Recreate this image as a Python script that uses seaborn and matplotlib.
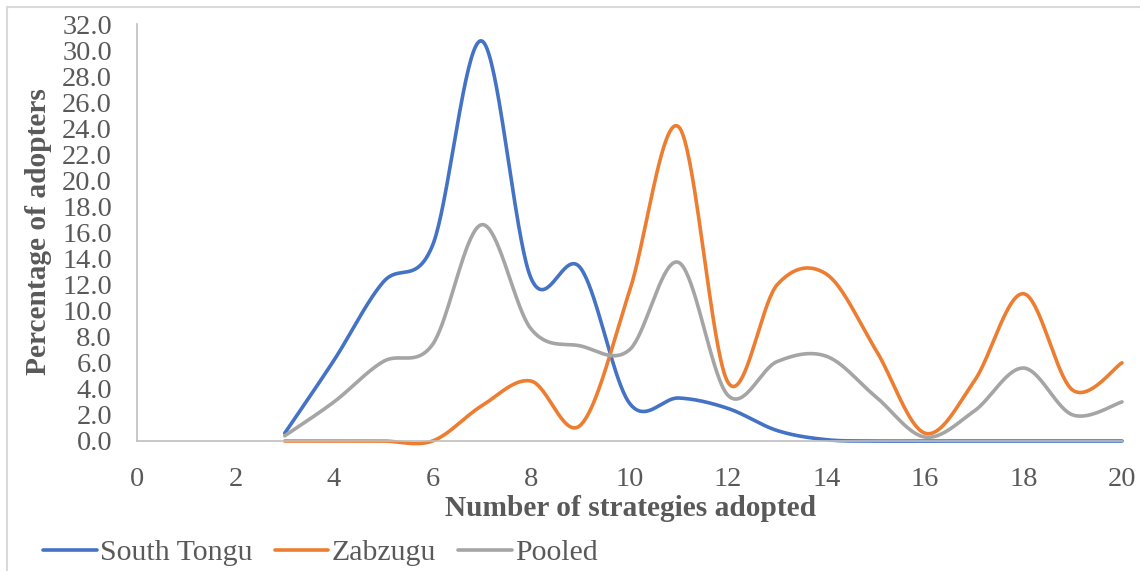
import matplotlib
matplotlib.use("Agg")
import matplotlib.pyplot as plt
import numpy as np
import pandas as pd
import seaborn as sns
from matplotlib.patches import Rectangle

# ---------------- data ----------------
strategies = [3, 4, 5, 6, 7, 8, 9, 10, 11, 12, 13, 14, 15, 16, 17, 18, 19, 20]
south_tongu = [0.6, 6.2, 12.2, 15.0, 30.7, 12.5, 13.3, 2.9, 3.3, 2.5, 0.8, 0.1, 0.0, 0.0, 0.0, 0.0, 0.0, 0.0]
zabzugu = [0.0, 0.0, 0.0, 0.0, 2.7, 4.6, 1.2, 11.5, 24.1, 4.5, 12.0, 12.8, 7.0, 0.6, 4.6, 11.3, 3.9, 6.0]
pooled = [0.4, 3.0, 6.1, 7.4, 16.6, 8.6, 7.3, 7.0, 13.7, 3.5, 6.1, 6.5, 3.4, 0.3, 2.3, 5.6, 2.0, 3.0]

series_names = ["South Tongu", "Zabzugu", "Pooled"]
series_colors = ["#4472C4", "#ED7D31", "#A5A5A5"]
x_ticks = list(range(0, 21, 2))
y_ticks = list(range(0, 33, 2))


def smooth(xs, ys, steps=40):
    # Excel-like smoothed line: Catmull-Rom Bezier segments through the points
    p = np.column_stack([xs, ys]).astype(float)
    out = []
    n = len(p)
    for i in range(n - 1):
        p0 = p[max(i - 1, 0)]
        p1 = p[i]
        p2 = p[i + 1]
        p3 = p[min(i + 2, n - 1)]
        c1 = p1 + (p2 - p0) / 6.0
        c2 = p2 - (p3 - p1) / 6.0
        t = np.linspace(0, 1, steps, endpoint=(i == n - 2))[:, None]
        seg = ((1 - t) ** 3) * p1 + 3 * ((1 - t) ** 2) * t * c1 + 3 * (1 - t) * (t ** 2) * c2 + (t ** 3) * p2
        out.append(seg)
    out = np.vstack(out)
    return out[:, 0], out[:, 1]


frames = []
for name, vals in zip(series_names, [south_tongu, zabzugu, pooled]):
    sx, sy = smooth(strategies, vals)
    frames.append(pd.DataFrame({"x": sx, "y": sy, "series": name}))
df = pd.concat(frames, ignore_index=True)

# ---------------- styling ----------------
sns.set_style("white")
plt.rcParams["font.family"] = ["Liberation Serif", "DejaVu Serif"]
serif = "Liberation Serif"
text_color = "#595959"
axis_color = "#BFBFBF"

fig = plt.figure(figsize=(11.4, 5.71), dpi=100)
ax = fig.add_axes([137 / 1140, 130 / 571, 985 / 1140, 417 / 571])

sns.lineplot(data=df, x="x", y="y", hue="series", hue_order=series_names,
             palette=series_colors, sort=False, estimator=None, units="series",
             linewidth=2.6, legend=False, ax=ax)
for ln in ax.get_lines():
    ln.set_solid_capstyle("round")
    ln.set_clip_on(False)

ax.set_xlim(0, 20)
ax.set_ylim(0, 32)
ax.set_xticks(x_ticks)
ax.set_yticks(y_ticks)
ax.set_yticklabels([f"{v:.1f}" for v in y_ticks], family=serif)
ax.set_xticklabels([str(v) for v in x_ticks], family=serif)
ax.tick_params(axis="both", length=0, labelsize=20.5, labelcolor=text_color)
ax.tick_params(axis="y", pad=18)
ax.tick_params(axis="x", pad=18.5)
ax.set_xlabel("")
ax.set_ylabel("")
ax.grid(False)
for side in ["top", "right"]:
    ax.spines[side].set_visible(False)
for side in ["left", "bottom"]:
    ax.spines[side].set_color(axis_color)
    ax.spines[side].set_linewidth(1.2)
ax.set_zorder(2)

fig.text(630 / 1140, 1 - 508 / 571, "Number of strategies adopted", ha="center", va="center",
         fontsize=21.2, fontweight="bold", color=text_color, family=serif)
fig.text(39 / 1140, 1 - 232 / 571, "Percentage of adopters", ha="center", va="center",
         rotation=90, fontsize=21.2, fontweight="bold", color=text_color, family=serif)

handles = ax.get_lines()[:3]
leg = fig.legend(handles, series_names, loc="center left", bbox_to_anchor=(43 / 1140, 1 - 553 / 571),
                 ncol=3, frameon=False, prop={"family": serif, "size": 21.5}, labelcolor=text_color,
                 handlelength=1.8, handletextpad=0.1, columnspacing=0.75, borderaxespad=0, borderpad=0)
for txt in leg.get_texts():
    txt.set_fontfamily(serif)

# light chart-area border (as in the source, cut at right and bottom)
fig.patches.append(Rectangle((7 / 1140, -0.1), 1.2, 1.1 - 7 / 571, transform=fig.transFigure,
                             fill=False, edgecolor="#D9D9D9", linewidth=1.5))

fig.savefig("out.png", dpi=100)
